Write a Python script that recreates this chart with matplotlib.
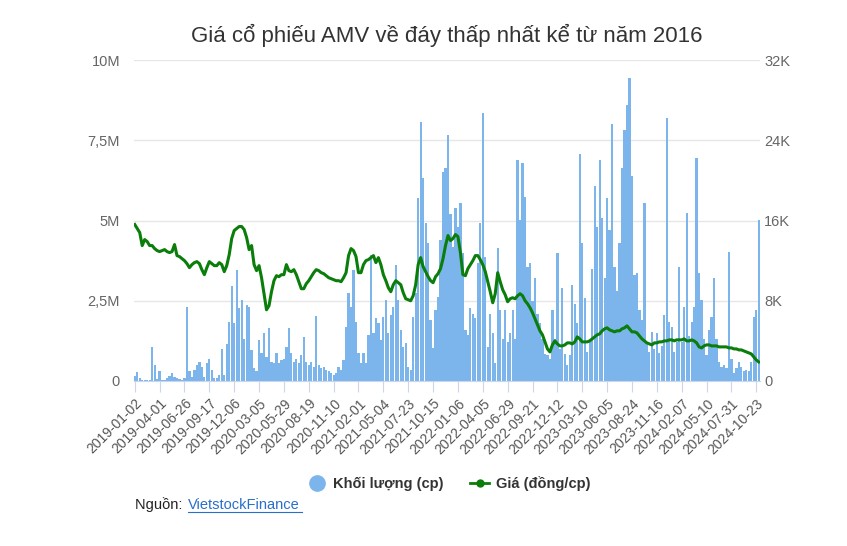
import matplotlib
matplotlib.use("Agg")
import matplotlib.pyplot as plt
from matplotlib.lines import Line2D

plt.rcParams['font.family'] = ['Liberation Sans', 'DejaVu Sans']

# tick labels (one every 10 points)
tick_labels = ['2019-01-02', '2019-04-01', '2019-06-26', '2019-09-17', '2019-12-06',
               '2020-03-05', '2020-05-29', '2020-08-19', '2020-11-10', '2021-02-01',
               '2021-05-04', '2021-07-23', '2021-10-15', '2022-01-06', '2022-04-05',
               '2022-06-29', '2022-09-21', '2022-12-12', '2023-03-10', '2023-06-05',
               '2023-08-24', '2023-11-16', '2024-02-07', '2024-05-10', '2024-07-31',
               '2024-10-23']

# volume, million shares (~6 sessions per point)
volume_m = [
    0.15, 0.29, 0.1, 0.03, 0.02, 0.02, 0.02, 1.07, 0.5, 0.05,
    0.3, 0.02, 0.03, 0.1, 0.15, 0.25, 0.12, 0.08, 0.05, 0.03,
    0.1, 2.3, 0.3, 0.12, 0.34, 0.5, 0.6, 0.45, 0.12, 0.55,
    0.7, 0.34, 0.08, 0.1, 0.2, 1.0, 0.18, 1.15, 1.85, 2.96,
    1.8, 3.46, 2.26, 2.52, 1.3, 2.37, 2.31, 0.97, 0.4, 0.3,
    1.28, 0.87, 1.48, 0.76, 1.64, 0.6, 0.55, 0.86, 0.55, 0.65,
    0.7, 1.07, 1.64, 0.86, 0.6, 0.7, 0.55, 0.8, 1.38, 0.6,
    0.5, 0.6, 0.45, 2.02, 0.5, 0.4, 0.45, 0.35, 0.3, 0.25,
    0.2, 0.24, 0.45, 0.35, 0.65, 1.69, 2.73, 2.31, 3.46, 1.85,
    0.86, 0.55, 0.86, 0.55, 1.43, 3.93, 1.48, 1.95, 1.8, 1.28,
    2.0, 2.52, 1.48, 2.06, 2.31, 3.61, 2.52, 1.59, 1.06, 1.17,
    0.45, 0.35, 2.0, 2.73, 5.69, 8.08, 6.31, 4.91, 4.29, 1.9,
    1.02, 2.2, 2.63, 4.39, 6.52, 6.62, 7.66, 5.2, 4.18, 5.38,
    4.8, 5.53, 3.98, 1.59, 1.43, 2.26, 2.1, 1.95, 3.67, 4.91,
    8.34, 3.87, 1.07, 2.1, 1.5, 0.55, 4.13, 2.2, 1.3, 2.21,
    1.2, 1.5, 2.2, 1.3, 6.88, 5.02, 6.78, 5.74, 3.56, 3.67,
    2.5, 3.2, 2.1, 1.8, 1.3, 0.85, 0.8, 0.7, 2.21, 1.3,
    4.0, 1.0, 2.89, 0.85, 0.5, 0.8, 2.99, 2.4, 1.8, 7.07,
    4.29, 2.58, 0.9, 1.2, 3.48, 6.07, 4.8, 6.88, 5.07, 3.2,
    5.69, 4.7, 8.0, 3.56, 2.8, 4.29, 6.63, 7.82, 8.6, 9.43,
    6.39, 3.3, 3.36, 2.21, 1.9, 5.53, 1.2, 0.9, 1.54, 1.0,
    1.48, 0.86, 1.1, 2.06, 8.18, 1.85, 1.69, 0.9, 1.2, 3.56,
    1.2, 2.31, 5.22, 1.4, 1.85, 2.31, 6.94, 3.36, 2.52, 1.3,
    0.8, 1.59, 2.0, 3.2, 1.3, 0.6, 0.45, 0.5, 0.4, 4.03,
    0.7, 0.25, 0.4, 0.6, 0.45, 0.3, 0.35, 0.3, 0.6, 2.0,
    2.2, 5.02,
]

# price, thousand dong per share
price_k = [
    15.6, 15.2, 14.8, 13.5, 14.1, 13.9, 13.5, 13.5, 13.2, 13.0,
    12.9, 13.0, 13.1, 12.9, 12.8, 12.9, 13.6, 12.5, 12.4, 12.2,
    12.0, 11.7, 11.3, 11.6, 11.8, 11.9, 11.7, 11.1, 10.6, 11.3,
    11.9, 11.7, 11.5, 11.5, 11.8, 11.6, 10.9, 11.5, 12.6, 14.2,
    15.0, 15.2, 15.4, 15.4, 15.1, 14.3, 13.1, 13.5, 11.6, 11.0,
    11.5, 10.3, 8.7, 7.1, 7.5, 8.9, 10.0, 10.5, 10.4, 10.6,
    10.6, 11.6, 11.0, 10.9, 11.1, 10.6, 9.9, 9.2, 9.2, 9.7,
    10.0, 10.4, 10.8, 11.1, 11.0, 10.8, 10.7, 10.5, 10.3, 10.2,
    10.1, 10.0, 10.0, 9.9, 10.3, 10.8, 12.5, 13.2, 13.0, 12.4,
    10.8, 10.8, 11.6, 12.0, 12.1, 12.3, 12.5, 11.8, 12.3, 11.6,
    10.6, 10.0, 9.3, 8.9, 9.6, 10.0, 9.8, 9.6, 8.8, 8.2,
    8.1, 8.0, 8.5, 9.6, 11.6, 12.3, 11.4, 10.9, 10.4, 10.0,
    9.8, 10.4, 10.7, 11.2, 12.2, 13.5, 14.5, 14.0, 14.2, 14.6,
    14.4, 12.8, 10.6, 10.5, 11.2, 11.6, 12.0, 12.5, 12.5, 12.1,
    11.6, 10.9, 9.9, 8.9, 7.8, 8.7, 10.8, 9.9, 9.1, 8.6,
    7.9, 8.2, 8.3, 8.2, 8.5, 8.7, 8.5, 8.0, 7.7, 7.3,
    6.8, 6.2, 5.6, 5.0, 4.6, 3.9, 3.2, 2.9, 3.6, 4.0,
    3.7, 3.5, 3.5, 3.6, 3.8, 3.8, 3.7, 3.9, 4.4, 4.2,
    3.9, 3.9, 3.9, 4.0, 4.2, 4.4, 4.6, 4.7, 5.0, 5.2,
    5.3, 5.1, 5.0, 4.9, 5.0, 5.0, 5.2, 5.3, 5.5, 5.2,
    4.9, 4.9, 4.8, 4.5, 4.2, 4.0, 3.8, 3.7, 3.6, 3.8,
    3.8, 3.9, 3.9, 4.0, 4.0, 4.1, 4.1, 4.0, 4.1, 4.1,
    4.1, 4.2, 4.0, 4.0, 4.1, 4.0, 3.8, 3.4, 3.3, 3.5,
    3.6, 3.6, 3.5, 3.5, 3.5, 3.4, 3.4, 3.4, 3.4, 3.3,
    3.3, 3.2, 3.2, 3.1, 3.1, 3.0, 2.9, 2.8, 2.7, 2.4,
    2.1, 1.9,
]

volume = [v * 1e6 for v in volume_m]
price = [p * 1000 for p in price_k]
x = list(range(len(volume)))

fig = plt.figure(figsize=(8.47, 5.46), dpi=100)
ax = fig.add_axes([134 / 847, 165 / 546, 626 / 847, 321 / 546])
ax2 = ax.twinx()

ax.bar(x, volume, width=0.9, color='#7cb5ec', edgecolor='none', zorder=2)
ax2.plot(x, price, color='#0b7d0b', lw=2.2, zorder=3)

ax.set_xlim(-0.3, len(x) - 0.5)
ax.set_ylim(0, 10e6)
ax2.set_ylim(0, 32000)

ax.set_yticks([0, 2.5e6, 5e6, 7.5e6, 10e6])
ax.set_yticklabels(['0', '2,5M', '5M', '7,5M', '10M'])
ax2.set_yticks([0, 8000, 16000, 24000, 32000])
ax2.set_yticklabels(['0', '8K', '16K', '24K', '32K'])
ax.grid(axis='y', color='#e6e6e6', lw=1, zorder=0)
ax.set_axisbelow(True)

ax.set_xticks(range(0, len(x), 10))
ax.set_xticklabels(tick_labels, rotation=45, ha='right', rotation_mode='anchor')

for a in (ax, ax2):
    for s in a.spines.values():
        s.set_visible(False)
ax.spines['bottom'].set_visible(True)
ax.spines['bottom'].set_color('#ccd6eb')

ax.tick_params(axis='x', length=8, color='#ccd6eb', labelsize=10, labelcolor='#555555', pad=3)
ax.tick_params(axis='y', length=0, labelsize=10.5, labelcolor='#666666', pad=10)
ax2.tick_params(axis='y', length=0, labelsize=10.5, labelcolor='#666666', pad=3)

fig.text(0.527, 0.935, 'Giá cổ phiếu AMV về đáy thấp nhất kể từ năm 2016',
         ha='center', va='center', fontsize=16, color='#333333')

handles = [Line2D([], [], marker='o', ls='none', color='#7cb5ec', markersize=11),
           Line2D([], [], marker='o', color='#0b7d0b', lw=2, markersize=5)]
fig.legend(handles, ['Khối lượng (cp)', 'Giá (đồng/cp)'], loc='center',
           bbox_to_anchor=(0.53, 0.115), ncol=2, frameon=False,
           prop={'weight': 'bold', 'size': 10.5}, handlelength=1.3,
           columnspacing=1.8, handletextpad=0.5, labelcolor='#333333')

fig.text(135 / 847, 1 - 505 / 546, 'Nguồn: ', fontsize=10.5, color='#222222', va='center')
fig.text(188 / 847, 1 - 505 / 546, 'VietstockFinance', fontsize=10.5, color='#2a6fc9',
         va='center').set_url('https://finance.vietstock.vn')
fig.add_artist(Line2D([188 / 847, 302 / 847], [1 - 512 / 546, 1 - 512 / 546],
                      color='#2a6fc9', lw=0.8))

fig.savefig('out.png', dpi=100)
